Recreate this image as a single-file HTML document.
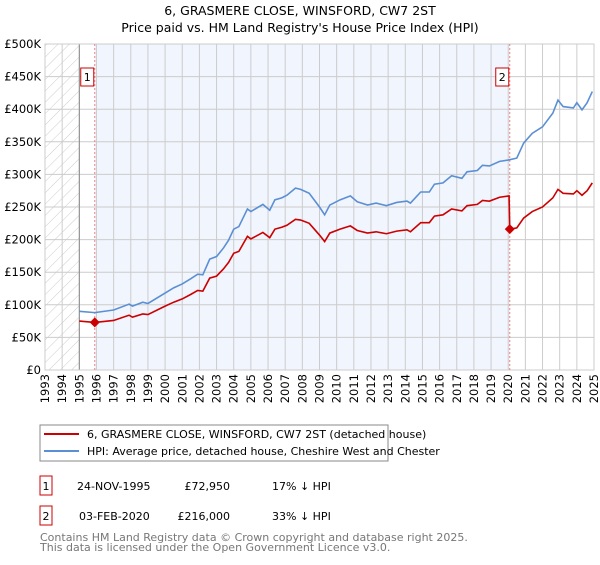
<!DOCTYPE html>
<html><head><meta charset="utf-8"><style>
body{margin:0;background:#fff;font-family:"Liberation Sans","DejaVu Sans",sans-serif;}
svg text{font-family:"DejaVu Sans","Liberation Sans",sans-serif;}
</style></head><body>
<svg id="c" width="600" height="560" xmlns="http://www.w3.org/2000/svg">
<defs><pattern id="hatch" width="8" height="8" patternUnits="userSpaceOnUse" patternTransform="rotate(45)"><line x1="0" y1="0" x2="0" y2="8" stroke="#ccc" stroke-width="1"/></pattern></defs>
<text x="300" y="15" text-anchor="middle" font-size="12.5" fill="#000">6, GRASMERE CLOSE, WINSFORD, CW7 2ST</text>
<text x="300" y="32" text-anchor="middle" font-size="12.5" fill="#000">Price paid vs. HM Land Registry's House Price Index (HPI)</text>
<g id="plot"></g>
<g>
<rect x="40" y="425" width="348" height="36" fill="#fff" stroke="#888"/>
<line x1="44" y1="434" x2="79" y2="434" stroke="#cc0000" stroke-width="2"/>
<text x="87" y="438" font-size="11">6, GRASMERE CLOSE, WINSFORD, CW7 2ST (detached house)</text>
<line x1="44" y1="451" x2="79" y2="451" stroke="#5b8fd4" stroke-width="2"/>
<text x="87" y="455" font-size="11">HPI: Average price, detached house, Cheshire West and Chester</text>
</g>
<g font-size="11">
<rect x="40" y="476" width="12" height="19" fill="#fff" stroke="#cc0000"/><text x="46" y="490" text-anchor="middle">1</text>
<text x="77" y="490">24-NOV-1995</text><text x="230" y="490" text-anchor="end">£72,950</text><text x="272" y="490">17% ↓ HPI</text>
<rect x="40" y="506" width="12" height="19" fill="#fff" stroke="#cc0000"/><text x="46" y="520" text-anchor="middle">2</text>
<text x="79" y="520">03-FEB-2020</text><text x="230" y="520" text-anchor="end">£216,000</text><text x="272" y="520">33% ↓ HPI</text>
</g>
<g font-size="11" fill="#777">
<text x="40" y="541">Contains HM Land Registry data © Crown copyright and database right 2025.</text>
<text x="40" y="551">This data is licensed under the Open Government Licence v3.0.</text>
</g>
</svg>
<script>
const years=[1993,1994,1995,1996,1997,1998,1999,2000,2001,2002,2003,2004,2005,2006,2007,2008,2009,2010,2011,2012,2013,2014,2015,2016,2017,2018,2019,2020,2021,2022,2023,2024,2025];
const yTicks=[0,50,100,150,200,250,300,350,400,450,500];
const hpiT=[1995.0,1995.9,1997.0,1997.9,1998.1,1998.7,1999.0,2000.0,2000.5,2001.0,2001.5,2001.9,2002.2,2002.6,2003.0,2003.4,2003.7,2004.0,2004.3,2004.8,2005.0,2005.7,2006.1,2006.4,2006.8,2007.1,2007.6,2007.9,2008.4,2009.0,2009.3,2009.6,2010.2,2010.8,2011.2,2011.8,2012.3,2012.9,2013.5,2014.1,2014.3,2014.9,2015.4,2015.7,2016.2,2016.7,2017.3,2017.6,2018.2,2018.5,2018.9,2019.5,2020.0,2020.5,2020.9,2021.4,2022.0,2022.6,2022.9,2023.2,2023.8,2024.0,2024.3,2024.6,2024.9];
const hpiV=[90,88,92,101,98,104,102,118,126,132,140,147,146,170,174,187,199,216,220,247,243,254,245,261,264,268,279,277,271,250,238,253,261,267,258,253,256,252,257,259,256,273,273,285,287,298,294,304,306,314,313,320,322,325,348,363,373,394,414,404,402,410,399,410,427];
const redT=[1995.0,1995.9,1997.0,1997.9,1998.1,1998.7,1999.0,2000.0,2000.5,2001.0,2001.5,2001.9,2002.2,2002.6,2003.0,2003.4,2003.7,2004.0,2004.3,2004.8,2005.0,2005.7,2006.1,2006.4,2006.8,2007.1,2007.6,2007.9,2008.4,2009.0,2009.3,2009.6,2010.2,2010.8,2011.2,2011.8,2012.3,2012.9,2013.5,2014.1,2014.3,2014.9,2015.4,2015.7,2016.2,2016.7,2017.3,2017.6,2018.2,2018.5,2018.9,2019.5,2020.05,2020.09,2020.5,2020.9,2021.4,2022.0,2022.6,2022.9,2023.2,2023.8,2024.0,2024.3,2024.6,2024.9];
const redV=[75,73,76,84,81,86,85,98,104,109,116,122,121,141,144,155,165,179,182,205,201,211,203,216,219,222,231,230,225,207,197,210,216,221,214,210,212,209,213,215,212,226,226,236,238,247,244,252,254,260,259,265,267,216,218,233,243,250,264,277,271,270,275,268,275,287];
const saleT=[1995.9,2020.09];
const saleV=[72.95,216];
const saleLabels=["1","2"];
const NS='http://www.w3.org/2000/svg';
const L=45,R=594,T=44,B=370;
const xs=y=>L+(y-1993)/(2025-1993)*(R-L);
const ys=v=>B-v/500*(B-T);
const g=document.getElementById('plot');
function mk(tag,attrs,parent){const e=document.createElementNS(NS,tag);for(const k in attrs)e.setAttribute(k,attrs[k]);(parent||g).appendChild(e);return e;}
let e;
e=mk('rect',{x:L,y:T,width:xs(1995)-L,height:B-T,fill:'url(#hatch)'});


e=mk('rect',{x:xs(saleT[0]),y:T,width:xs(saleT[1])-xs(saleT[0]),height:B-T,fill:'#f1f5fd'});


years.forEach(y=>{e=mk('line',{x1:xs(y),x2:xs(y),y1:T,y2:B,stroke:'#ccc','stroke-width':1});


const t=mk('text',{x:0,y:0,'font-size':11.5,'text-anchor':'end',transform:`translate(${xs(y)+4},374) rotate(-90)`});t.textContent=y;

});
yTicks.forEach(v=>{e=mk('line',{x1:L,x2:R,y1:ys(v),y2:ys(v),stroke:'#ccc','stroke-width':1});


const t=mk('text',{x:41,y:ys(v)+4,'font-size':11.5,'text-anchor':'end'});t.textContent=v===0?'£0':'£'+v+'K';

});
e=mk('line',{x1:xs(1995),x2:xs(1995),y1:T,y2:B,stroke:'#888'});


e=mk('rect',{x:L,y:T,width:R-L,height:B-T,fill:'none',stroke:'#ccc'});


saleT.forEach((s,i)=>{e=mk('line',{x1:xs(s),x2:xs(s),y1:T,y2:B,stroke:'#f08080','stroke-dasharray':'2,2'});

});
e=mk('polyline',{points:hpiT.map((t,i)=>xs(t)+','+ys(hpiV[i])).join(' '),fill:'none',stroke:'#5b8fd4','stroke-width':1.6});


e=mk('polyline',{points:redT.map((t,i)=>xs(t)+','+ys(redV[i])).join(' '),fill:'none',stroke:'#cc0000','stroke-width':1.6});


saleT.forEach((s,i)=>{const x=xs(s),y=ys(saleV[i]);
e=mk('path',{d:`M${x-5},${y}L${x},${y-5}L${x+5},${y}L${x},${y+5}Z`,fill:'#cc0000'});


const bx=x-12;
e=mk('rect',{x:bx-2,y:68,width:13,height:18,fill:'#fff',stroke:'#cc0000'});


const t=mk('text',{x:bx+4.5,y:81,'font-size':11,'text-anchor':'middle'});t.textContent=saleLabels[i];

});
</script>
</body></html>
